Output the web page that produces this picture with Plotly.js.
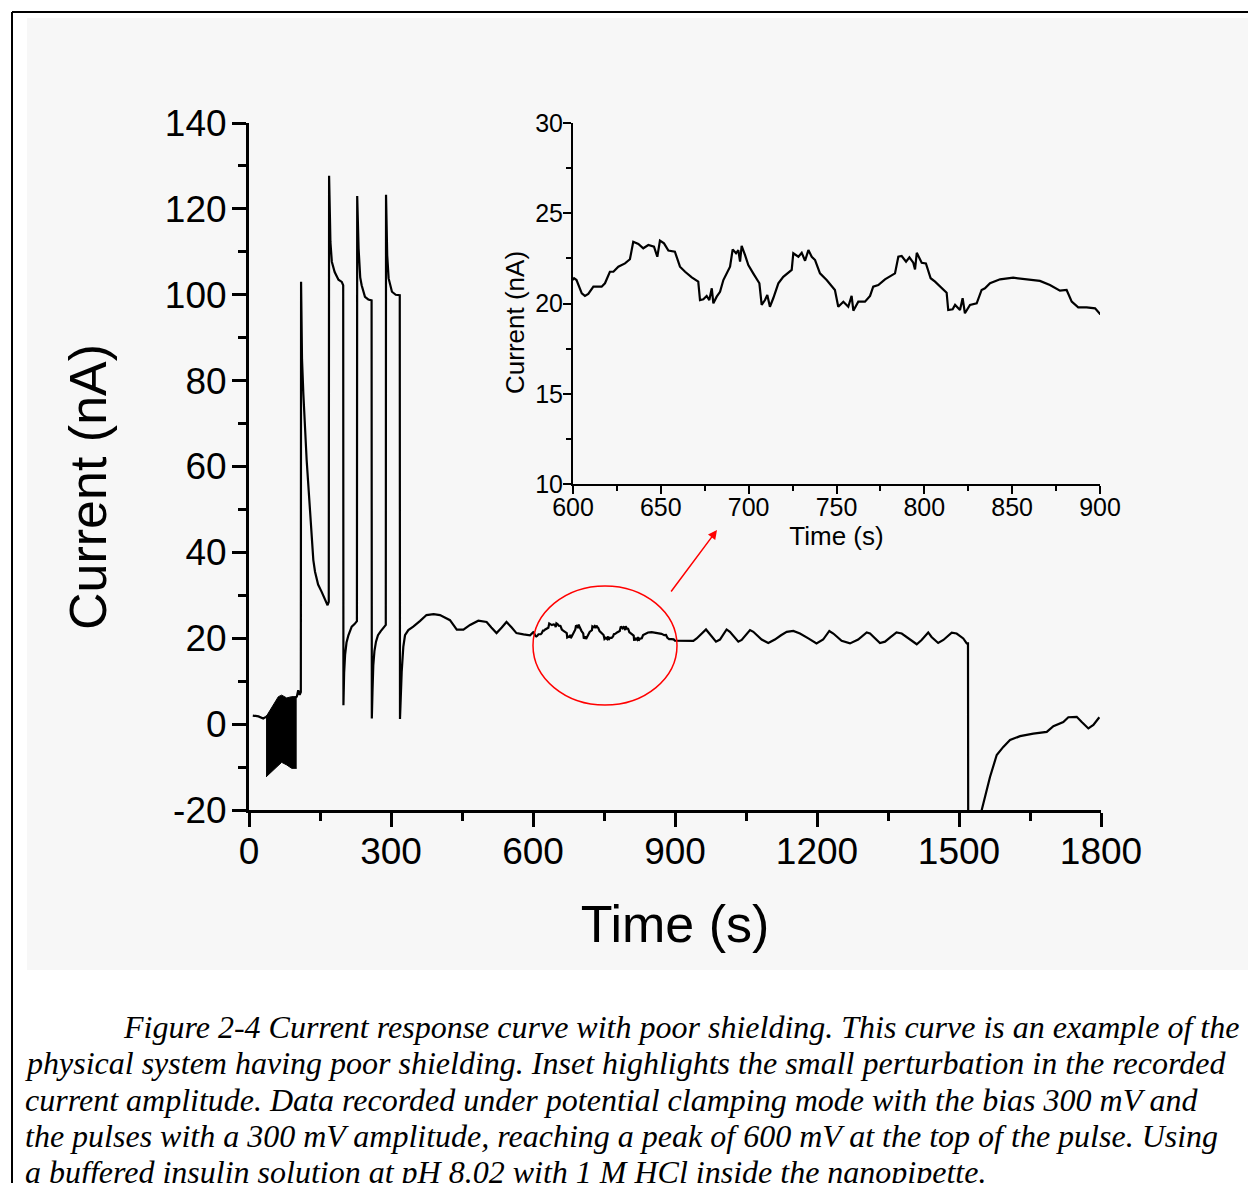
<!DOCTYPE html>
<html>
<head>
<meta charset="utf-8">
<script src="https://cdn.plot.ly/plotly-3.0.1.min.js"></script>
<style>
html,body{margin:0;padding:0;background:#fff;}
#chart{width:1248px;height:1183px;}
</style>
</head>
<body>
<div id="chart"></div>
<script>
// ---- Data ----
// Time (s) and current (nA) of the recorded trace
const timeS = [
  8, 20, 30, 36,
  101, 104, 107, 109.5,
  110, 111, 112, 114.8, 121.8, 128.9, 135.9, 139.5, 146, 153.5, 160.6, 166, 168.5,
  169.2, 171, 172, 175, 181, 189, 196, 199,
  199.5, 201, 203, 206, 210, 217, 223, 228,
  228.6, 230, 231.5, 235, 238, 245, 252, 259,
  259.5, 261, 262.6, 265, 268.3, 272.5, 278, 283.8, 289,
  289.5, 291, 292, 295, 302, 310, 318.5,
  319, 321, 322.6, 326, 329.6, 336.6, 347, 361, 375, 390, 403.5, 424.6, 439, 453,
  467, 484.5, 495, 502, 512, 523, 534, 544, 555, 565, 580, 593.7,
  600.6, 602, 605, 606.8, 608.7, 611.6, 616.3, 618.2, 621, 623, 625.8, 629.6, 632.4,
  634.3, 637.2, 640, 642.9, 644.8, 646.1, 648, 649.5, 651.8, 654.3, 658, 660.9,
  663.8, 667.6, 671.3, 672.3, 674.2, 676.1, 677.6, 679, 679.9, 681.8, 683.7, 685.6,
  689.4, 690.9, 692.8, 694.1, 695.1, 696, 697.9, 699.8, 702.6, 706.1, 707.4, 709.3,
  710.6, 712.1, 714, 716.9, 719.7, 724.5, 725.4, 728.3, 730.2, 732.1, 734, 735.9,
  737.8, 740.6, 744.4, 749.1, 751, 753.9, 756.7, 758.6, 759.6, 762.4, 766.2, 769.1,
  770.9, 773.8, 777.6, 783.3, 785.2, 787.1, 789.6, 791.5, 793.7, 794.7, 795.7, 798.5,
  800.9, 803.6, 806.1, 809.9, 812.7, 813.6, 816.1, 817.5, 820.3, 821.8, 823.1, 826,
  829.8, 832.6, 834.5, 837.4, 843.1, 850.6, 858.3, 865.8, 871.5, 877.2, 881, 883.9,
  887.6, 892.4, 897.2, 900,
  907, 925, 938.7, 945.8, 955, 965.5, 972.5, 980, 986.6, 995, 1002, 1009, 1016, 1025,
  1033.8, 1040.9, 1050, 1058.5, 1065.5, 1075, 1083, 1097, 1111, 1124, 1136, 1150, 1164,
  1181.7, 1199, 1213, 1226, 1234.5, 1252, 1269.7, 1287, 1305, 1312, 1333, 1343.7, 1356,
  1368, 1379, 1393, 1410.7, 1421, 1435, 1442, 1456, 1467, 1476, 1484.6, 1495, 1509,
  1516.3, 1519,
  1519.5, 1527, 1548, 1565.5, 1579.7, 1593.6, 1607.8, 1629, 1657, 1685.4, 1699.4,
  1720.4, 1731, 1748.7, 1759.3, 1773.3, 1783.9, 1796.5
];
const currentNA = [
  2.0, 1.8, 1.3, 1.7,
  6.4, 7.9, 6.8, 7.5,
  103.0, 92, 85, 77.0, 61.5, 49.8, 38.2, 35.5, 32.5, 30.8, 28.9, 27.7, 28.5,
  127.7, 118, 112.3, 107.7, 105.3, 103.5, 103.0, 102.2,
  4.4, 12, 16.1, 19.0, 20.7, 22.7, 23.3, 24.0,
  123.0, 115, 110.8, 104, 102.2, 99.5, 98.9, 98.7,
  1.3, 8, 13.7, 17, 19.2, 20.7, 21.6, 22.3, 23.1,
  123.3, 115, 109.2, 103.8, 100.7, 100.0, 99.9,
  1.2, 8, 12.2, 18, 20.7, 21.9, 22.7, 24.0, 25.4, 25.6, 25.4, 24.2, 22.0, 22.0,
  23.1, 24.1, 23.9, 23.8, 22.5, 21.2, 22.5, 23.8, 22.5, 21.2, 20.9, 20.7,
  21.40, 21.30, 20.56, 20.42, 20.53, 20.93, 20.93, 21.12, 21.76, 21.76, 22.04, 22.22, 22.45,
  23.42, 23.30, 23.06, 23.24, 23.19, 23.15, 22.59, 23.48, 23.33, 22.93, 22.87, 22.04,
  21.76, 21.45, 21.21, 20.19, 20.23, 20.42, 20.19, 20.84, 20.01, 20.38, 20.65, 21.30,
  22.04, 23.00, 22.78, 22.96, 22.32, 23.19, 22.69, 22.13, 21.67, 21.12, 19.92, 20.19,
  20.47, 19.82, 20.29, 21.12, 21.48, 21.86, 22.78, 22.59, 22.81, 22.37, 22.96, 22.59,
  22.41, 21.67, 21.30, 20.75, 19.82, 20.10, 19.82, 20.42, 19.60, 20.10, 20.10, 20.42,
  20.93, 21.02, 21.34, 21.67, 22.59, 22.63, 22.32, 22.56, 22.26, 21.89, 22.81, 22.26,
  22.22, 21.40, 21.21, 20.84, 20.60, 19.64, 19.68, 19.92, 19.64, 20.29, 19.46, 19.92,
  20.01, 20.75, 20.84, 21.12, 21.34, 21.43, 21.34, 21.25, 21.02, 20.71, 20.75, 20.10,
  19.79, 19.79, 19.73, 19.42,
  19.4, 19.4, 19.4, 19.96, 21.0, 22.05, 21.1, 20.0, 19.2, 19.7, 21.0, 22.05, 21.5, 20.3,
  19.2, 19.6, 20.8, 21.9, 21.5, 20.5, 19.7, 18.9, 19.7, 20.7, 21.5, 21.7, 21.1,
  19.96, 18.8, 19.7, 21.7, 21.1, 19.4, 18.8, 19.7, 21.35, 21.1, 18.9, 19.2, 20.3,
  21.35, 21.1, 19.96, 18.6, 19.6, 21.35, 20.3, 18.9, 19.6, 20.5, 21.3, 21.1, 19.96,
  18.8, 18.8,
  -30, -30, -20, -12.3, -7.2, -5.3, -3.7, -2.8, -2.2, -1.8, -0.5,
  0.5, 1.6, 1.7, 0.5, -1.0, -0.2, 1.6
];
// Envelope of the fast oscillating (noisy) block at the start of the record
const blockTime  = [36, 51, 62, 69, 79.6, 90.2, 100.8];
const blockUpper = [1.7, 4.4, 6.4, 6.75, 6.1, 6.4, 6.4];
const blockLower = [-12.3, -10.7, -9.6, -8.9, -9.5, -10.3, -10.3];

// Tick labels
const mainYTicks = [-20, 0, 20, 40, 60, 80, 100, 120, 140];
const mainYTickText = ['-20', '0', '20', '40', '60', '80', '100', '120', '140'];
const mainXTicks = [0, 300, 600, 900, 1200, 1500, 1800];
const insetXTicks = [600, 650, 700, 750, 800, 850, 900];
const insetYTicks = [10, 15, 20, 25, 30];

const captionLines = [
  'Figure 2-4 Current response curve with poor shielding. This curve is an example of the',
  'physical system having poor shielding. Inset highlights the small perturbation in the recorded',
  'current amplitude. Data recorded under potential clamping mode with the bias 300 mV and',
  'the pulses with a 300 mV amplitude, reaching a peak of 600 mV at the top of the pulse. Using',
  'a buffered insulin solution at pH 8.02 with 1 M HCl inside the nanopipette.'
];

// ---- Layout helpers (pixel -> paper) ----
const W = 1248, H = 1183;
const px = v => v / W;
const py = v => 1 - v / H;
const SANS = 'Liberation Sans, Arial, sans-serif';
const SERIF = 'Liberation Serif, Times New Roman, serif';

const traces = [
  {x: blockTime, y: blockLower, type: 'scatter', mode: 'lines',
   line: {color: '#000', width: 1}, xaxis: 'x', yaxis: 'y', hoverinfo: 'skip'},
  {x: blockTime, y: blockUpper, type: 'scatter', mode: 'lines', fill: 'tonexty',
   fillcolor: '#000', line: {color: '#000', width: 1}, xaxis: 'x', yaxis: 'y', hoverinfo: 'skip'},
  {x: timeS, y: currentNA, type: 'scatter', mode: 'lines',
   line: {color: '#000', width: 2.2}, xaxis: 'x', yaxis: 'y'},
  {x: timeS, y: currentNA, type: 'scatter', mode: 'lines',
   line: {color: '#000', width: 2.2}, xaxis: 'x2', yaxis: 'y2'}
];

const mainAxisCommon = {
  showgrid: false, zeroline: false, showline: true, linecolor: '#000', linewidth: 3,
  ticks: 'outside', ticklen: 14, tickwidth: 3, tickcolor: '#000',
  tickfont: {family: SANS, size: 37, color: '#000'}
};
const insetAxisCommon = {
  showgrid: false, zeroline: false, showline: true, linecolor: '#000', linewidth: 2,
  ticks: 'outside', ticklen: 8, tickwidth: 2, tickcolor: '#000',
  tickfont: {family: SANS, size: 25, color: '#000'}
};

const layout = {
  width: W, height: H, autosize: false,
  margin: {l: 0, r: 0, t: 0, b: 0, pad: 0},
  paper_bgcolor: '#fff', plot_bgcolor: 'rgba(0,0,0,0)',
  showlegend: false,
  xaxis: Object.assign({}, mainAxisCommon, {
    domain: [px(249), px(1101)], range: [0, 1800], anchor: 'y',
    tickmode: 'array', tickvals: mainXTicks,
    minor: {ticks: 'outside', ticklen: 8, tickwidth: 3, tickcolor: '#000', tickmode: 'linear', tick0: 0, dtick: 150, showgrid: false},
    ticklabelstandoff: -7,
    title: {text: 'Time (s)', font: {family: SANS, size: 52, color: '#000'}, standoff: 35}
  }),
  yaxis: Object.assign({}, mainAxisCommon, {
    domain: [py(810), py(123)], range: [-20, 140], anchor: 'x',
    tickmode: 'array', tickvals: mainYTicks, ticktext: mainYTickText,
    minor: {ticks: 'outside', ticklen: 8, tickwidth: 3, tickcolor: '#000', tickmode: 'linear', tick0: 0, dtick: 10, showgrid: false},
    ticklabelstandoff: -2
  }),
  xaxis2: Object.assign({}, insetAxisCommon, {
    domain: [px(573), px(1100)], range: [600, 900], anchor: 'y2',
    tickmode: 'array', tickvals: insetXTicks,
    minor: {ticks: 'outside', ticklen: 5, tickwidth: 2, tickcolor: '#000', tickmode: 'linear', tick0: 600, dtick: 25, showgrid: false},
    ticklabelstandoff: -8,
    title: {text: 'Time (s)', font: {family: SANS, size: 26, color: '#000'}, standoff: 6}
  }),
  yaxis2: Object.assign({}, insetAxisCommon, {
    domain: [py(484), py(123)], range: [10, 30], anchor: 'x2',
    tickmode: 'array', tickvals: insetYTicks,
    minor: {ticks: 'outside', ticklen: 5, tickwidth: 2, tickcolor: '#000', tickmode: 'linear', tick0: 10, dtick: 2.5, showgrid: false},
    ticklabelstandoff: -5
  }),
  shapes: [
    {type: 'rect', xref: 'paper', yref: 'paper', x0: px(27), x1: 1, y0: py(970), y1: py(18),
     fillcolor: '#f7f7f7', line: {width: 0}, layer: 'below'},
    {type: 'line', xref: 'paper', yref: 'paper', x0: px(12), x1: 1, y0: py(12), y1: py(12),
     line: {color: '#000', width: 2}},
    {type: 'line', xref: 'paper', yref: 'paper', x0: px(12), x1: px(12), y0: py(12), y1: 0,
     line: {color: '#000', width: 2}},
    {type: 'circle', xref: 'paper', yref: 'paper', x0: px(533), x1: px(677), y0: py(705), y1: py(586),
     line: {color: '#ff0000', width: 1.5}}
  ],
  annotations: [
    {text: 'Current (nA)', xref: 'paper', yref: 'paper', x: px(88), y: py(487), textangle: -90,
     showarrow: false, xanchor: 'center', yanchor: 'middle', font: {family: SANS, size: 52, color: '#000'}},
    {text: 'Current (nA)', xref: 'paper', yref: 'paper', x: px(515), y: py(323), textangle: -90,
     showarrow: false, xanchor: 'center', yanchor: 'middle', font: {family: SANS, size: 26, color: '#000'}},
    {text: '', xref: 'paper', yref: 'paper', x: px(717), y: py(530), ax: -47, ay: 63,
     showarrow: true, arrowhead: 2, arrowsize: 1.2, arrowwidth: 1.5, arrowcolor: '#ff0000', standoff: 0}
  ]
};

const captionY = [1027, 1063, 1100, 1136, 1172];
captionLines.forEach((t, i) => {
  layout.annotations.push({
    text: t, xref: 'paper', yref: 'paper', x: px(i === 0 ? 121 : 23), y: py(captionY[i]),
    xanchor: 'left', yanchor: 'middle', showarrow: false,
    font: {family: SERIF, size: 32, color: '#000', style: 'italic'}
  });
});

Plotly.newPlot('chart', traces, layout, {staticPlot: true, displayModeBar: false});
</script>
</body>
</html>
